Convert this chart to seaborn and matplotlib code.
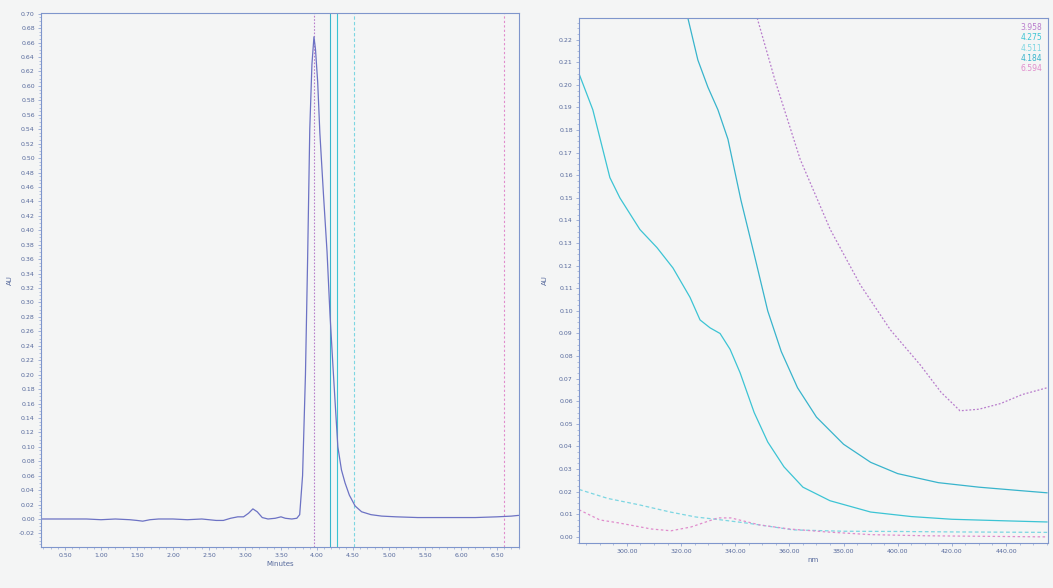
import numpy as np
import pandas as pd
import matplotlib
matplotlib.use("Agg")
import matplotlib.pyplot as plt
from matplotlib.ticker import MultipleLocator, FormatStrFormatter
from matplotlib.lines import Line2D
import seaborn as sns

# ---- chromatogram (Minutes vs AU) ----
time_min = [0.17, 0.50, 0.80, 1.00, 1.20, 1.40, 1.50, 1.58, 1.68, 1.80, 2.00, 2.20,
            2.40, 2.60, 2.70, 2.80, 2.90, 2.98, 3.05, 3.11, 3.17, 3.24, 3.32, 3.42,
            3.50, 3.56, 3.65, 3.72, 3.76, 3.80, 3.84, 3.87, 3.90, 3.93, 3.958, 3.98,
            4.01, 4.04, 4.09, 4.14, 4.18, 4.22, 4.25, 4.29, 4.34, 4.39, 4.45, 4.53,
            4.62, 4.75, 4.90, 5.10, 5.40, 5.80, 6.20, 6.50, 6.70, 6.80]
absorb_au = [0.000, 0.000, 0.000, -0.001, 0.000, -0.001, -0.002, -0.003, -0.001, 0.000,
             0.000, -0.001, 0.000, -0.002, -0.002, 0.001, 0.003, 0.003, 0.008, 0.014,
             0.010, 0.002, 0.000, 0.001, 0.003, 0.001, 0.000, 0.001, 0.006, 0.060,
             0.200, 0.360, 0.540, 0.630, 0.668, 0.650, 0.605, 0.535, 0.450, 0.370,
             0.285, 0.215, 0.165, 0.100, 0.068, 0.050, 0.033, 0.018, 0.010, 0.006,
             0.004, 0.003, 0.002, 0.002, 0.002, 0.003, 0.004, 0.005]

# ---- spectra extracted at these retention times (nm vs AU) ----
spec_times = ["3.958", "4.275", "4.511", "4.184", "6.594"]

nm_3958 = [348.1, 354.7, 364.0, 375.1, 386.2, 397.3, 408.4, 416.0, 423.0, 430.0, 438.0, 446.0, 455.2]
au_3958 = [0.2296, 0.202, 0.167, 0.136, 0.1115, 0.0916, 0.076, 0.064, 0.0558, 0.0565, 0.059, 0.063, 0.066]

nm_4184 = [322.5, 326.2, 329.9, 333.6, 337.3, 342.1, 347.0, 352.0, 357.0, 363.0, 370.0,
           380.0, 390.0, 400.0, 415.0, 430.0, 445.0, 455.2]
au_4184 = [0.2296, 0.211, 0.199, 0.189, 0.176, 0.149, 0.125, 0.100, 0.082, 0.066, 0.053,
           0.041, 0.033, 0.028, 0.024, 0.022, 0.0205, 0.0195]

nm_4275 = [282.3, 287.4, 293.7, 297.4, 304.8, 311.1, 317.0, 323.3, 327.0, 330.7, 334.4,
           338.1, 341.8, 347.0, 352.0, 358.0, 365.0, 375.0, 390.0, 405.0, 420.0, 440.0, 455.2]
au_4275 = [0.205, 0.189, 0.159, 0.150, 0.136, 0.128, 0.119, 0.106, 0.096, 0.0925, 0.090,
           0.083, 0.0726, 0.055, 0.042, 0.031, 0.022, 0.016, 0.011, 0.009, 0.0078, 0.0071, 0.0066]

nm_4511 = [282.3, 293.0, 304.5, 316.0, 325.5, 335.0, 345.0, 361.4, 380.0, 400.0, 420.0, 455.2]
au_4511 = [0.021, 0.017, 0.0142, 0.011, 0.0088, 0.0075, 0.006, 0.0031, 0.0025, 0.0024, 0.0022, 0.002]

nm_6594 = [282.3, 290.0, 296.9, 309.0, 316.3, 323.7, 333.6, 338.4, 349.0, 360.0, 373.6, 390.0, 410.0, 455.2]
au_6594 = [0.012, 0.0075, 0.0062, 0.0035, 0.0027, 0.0044, 0.0084, 0.0084, 0.0053, 0.0035,
           0.0022, 0.0010, 0.0005, 0.0]

spec_colors = {"3.958": "#b87ccc", "4.275": "#3cc4d4", "4.511": "#7cd6e2",
               "4.184": "#38b4cc", "6.594": "#e08ccc"}
spec_dashes = {"3.958": (1.5, 1.5), "4.275": "", "4.511": (3, 2),
               "4.184": "", "6.594": (2, 2)}

bg = "#f4f5f5"
axis_col = "#7f96cc"
tick_col = "#56699c"

sns.set_theme(style="white")
plt.rcParams["font.family"] = ["DejaVu Sans"]

fig = plt.figure(figsize=(10.53, 5.88), dpi=100, facecolor=bg)
ax1 = fig.add_axes([41 / 1053, 1 - 547 / 588, (519 - 41) / 1053, (547 - 13) / 588])
ax2 = fig.add_axes([579 / 1053, 1 - 543 / 588, (1048 - 579) / 1053, (543 - 18) / 588])

# chromatogram
chrom = pd.DataFrame({"Minutes": time_min, "AU": absorb_au})
sns.lineplot(data=chrom, x="Minutes", y="AU", ax=ax1, color="#6c72c4", lw=0.9)
for t in spec_times:
    dash = spec_dashes[t]
    ax1.axvline(float(t), color=spec_colors[t], lw=0.8,
                dashes=dash if dash else (None, None), zorder=1)

ax1.set_xlim(0.167, 6.806)
ax1.set_ylim(-0.0388, 0.701)
ax1.xaxis.set_major_locator(MultipleLocator(0.5))
ax1.yaxis.set_major_locator(MultipleLocator(0.02))
ax1.xaxis.set_major_formatter(FormatStrFormatter("%.2f"))
ax1.yaxis.set_major_formatter(FormatStrFormatter("%.2f"))
ax1.xaxis.set_minor_locator(MultipleLocator(0.1))
ax1.yaxis.set_minor_locator(MultipleLocator(0.005))

# spectra
rows = []
for t, xs, ys in [("3.958", nm_3958, au_3958), ("4.275", nm_4275, au_4275),
                  ("4.511", nm_4511, au_4511), ("4.184", nm_4184, au_4184),
                  ("6.594", nm_6594, au_6594)]:
    for x, y in zip(xs, ys):
        rows.append({"nm": x, "AU": y, "time": t})
spec = pd.DataFrame(rows)
sns.lineplot(data=spec, x="nm", y="AU", hue="time", style="time",
             hue_order=spec_times, style_order=spec_times,
             palette=spec_colors, dashes=spec_dashes, lw=0.9, ax=ax2,
             sort=False, estimator=None, legend=False)

ax2.set_xlim(282.3, 455.5)
ax2.set_ylim(-0.0027, 0.2296)
ax2.xaxis.set_major_locator(MultipleLocator(20))
ax2.yaxis.set_major_locator(MultipleLocator(0.01))
ax2.xaxis.set_major_formatter(FormatStrFormatter("%.2f"))
ax2.yaxis.set_major_formatter(FormatStrFormatter("%.2f"))
ax2.xaxis.set_minor_locator(MultipleLocator(5))
ax2.yaxis.set_minor_locator(MultipleLocator(0.0025))

handles = [Line2D([], [], color=spec_colors[t], lw=0) for t in spec_times]
leg = ax2.legend(handles, spec_times, loc="upper right", frameon=False,
                 handlelength=0, handletextpad=0, borderpad=0.2, labelspacing=0.15,
                 fontsize=5.5, labelcolor=[spec_colors[t] for t in spec_times])

for ax, xl, pad in [(ax1, "Minutes", 4), (ax2, "nm", 8)]:
    ax.set_facecolor(bg)
    ax.grid(False)
    for s in ax.spines.values():
        s.set_color(axis_col)
        s.set_linewidth(0.8)
        s.set_linestyle((0, (1, 1)))
    ax.tick_params(axis="both", which="major", length=2.5, width=0.5, color=axis_col,
                   labelsize=4.5, labelcolor=tick_col, pad=2)
    ax.tick_params(axis="both", which="minor", length=1.2, width=0.4, color=axis_col)
    ax.tick_params(axis="both", which="both", bottom=True, left=True)
    ax.set_xlabel(xl, fontsize=5, color=tick_col, labelpad=2)
    ax.set_ylabel("AU", fontsize=5, color=tick_col, labelpad=pad)

fig.savefig("out.png", dpi=100, facecolor=bg)
